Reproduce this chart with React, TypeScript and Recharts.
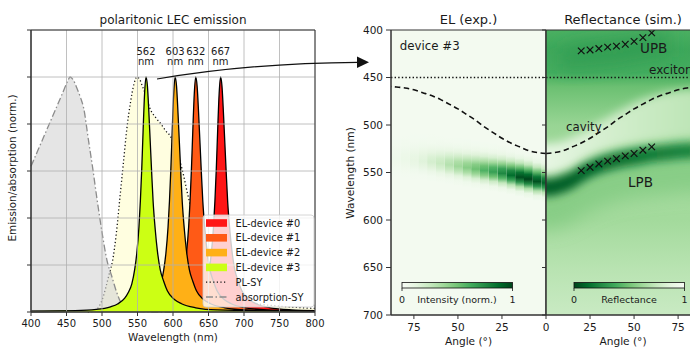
import React from 'react';
import {
  ComposedChart, Area, Line, Scatter, XAxis, YAxis, CartesianGrid,
  ReferenceArea, ReferenceLine,
} from 'recharts';

const FONT = "'DejaVu Sans', Verdana, sans-serif";
const INK = '#1a1a1a';

// ---------------- left panel data ----------------
const wavelengthTicks = [400, 450, 500, 550, 600, 650, 700, 750, 800];
const emissionTicks = [0, 0.2, 0.4, 0.6, 0.8, 1.0, 1.2];
const peakNm = [562, 603, 632, 667];

const absorptionSY = [
  [400, 0.62], [410, 0.69], [420, 0.76], [430, 0.83], [440, 0.9], [447, 0.95], [452, 0.985], [455, 1.0],
  [459, 0.99], [465, 0.95], [470, 0.91], [474, 0.87], [481, 0.73], [487, 0.61], [493, 0.48], [500, 0.34],
  [507, 0.22], [514, 0.15], [520, 0.09], [525, 0.05], [530, 0.025], [535, 0.01], [545, 0.003], [600, 0.0],
];

const plSY = [
  [480, 0.0], [490, 0.005], [495, 0.02], [500, 0.05], [505, 0.1], [510, 0.16], [515, 0.22], [520, 0.33],
  [525, 0.48], [530, 0.63], [535, 0.78], [540, 0.89], [545, 0.97], [549, 1.0], [553, 0.99], [557, 0.96],
  [562, 0.92], [567, 0.87], [575, 0.83], [583, 0.8], [590, 0.77], [596, 0.75], [603, 0.7], [610, 0.64],
  [615, 0.58], [620, 0.51], [630, 0.39], [640, 0.29], [650, 0.21], [660, 0.15], [670, 0.11], [680, 0.08],
  [700, 0.05], [720, 0.035], [750, 0.025], [800, 0.015],
];

const elDevice3 = [
  [400, 0.004], [462, 0.006], [492, 0.011], [512, 0.022], [522, 0.034], [532, 0.059], [537, 0.083],
  [542, 0.12], [546, 0.18], [549, 0.25], [552, 0.36], [554, 0.47], [556, 0.61], [558, 0.78], [560, 0.93],
  [562, 1.0], [564, 0.96], [566, 0.85], [568, 0.72], [570, 0.59], [572, 0.47], [575, 0.35], [578, 0.26],
  [582, 0.18], [587, 0.13], [592, 0.09], [602, 0.053], [612, 0.035], [632, 0.018], [662, 0.009], [800, 0.003],
];
const elDevice2 = [
  [400, 0.003], [503, 0.006], [533, 0.011], [553, 0.022], [563, 0.034], [573, 0.059], [578, 0.083],
  [583, 0.12], [587, 0.18], [590, 0.25], [593, 0.36], [595, 0.47], [597, 0.61], [599, 0.78], [601, 0.93],
  [603, 1.0], [605, 0.96], [607, 0.85], [609, 0.72], [611, 0.59], [613, 0.47], [616, 0.35], [619, 0.26],
  [623, 0.18], [628, 0.13], [633, 0.09], [643, 0.053], [653, 0.035], [673, 0.018], [703, 0.009], [800, 0.004],
];
const elDevice1 = [
  [400, 0.002], [532, 0.006], [562, 0.011], [582, 0.022], [592, 0.034], [602, 0.059], [607, 0.083],
  [612, 0.12], [616, 0.18], [619, 0.25], [622, 0.36], [624, 0.47], [626, 0.61], [628, 0.78], [630, 0.93],
  [632, 1.0], [634, 0.96], [636, 0.85], [638, 0.72], [640, 0.59], [642, 0.47], [645, 0.35], [648, 0.26],
  [652, 0.18], [657, 0.13], [662, 0.09], [672, 0.053], [682, 0.035], [702, 0.018], [732, 0.009], [800, 0.005],
];
const elDevice0 = [
  [400, 0.002], [567, 0.006], [597, 0.011], [617, 0.022], [627, 0.034], [637, 0.059], [642, 0.083],
  [647, 0.12], [651, 0.18], [654, 0.25], [657, 0.36], [659, 0.47], [661, 0.61], [663, 0.78], [665, 0.93],
  [667, 1.0], [669, 0.96], [671, 0.85], [673, 0.72], [675, 0.59], [677, 0.47], [680, 0.35], [683, 0.26],
  [687, 0.18], [692, 0.13], [697, 0.09], [707, 0.053], [717, 0.035], [737, 0.018], [767, 0.009], [800, 0.006],
];

// ---------------- right panel data ----------------
const nmTicks = [400, 450, 500, 550, 600, 650, 700];
const angleTicks = [0, 25, 50, 75];
const excitonNm = 450;

// EL (exp.) columns
const elAngle = [0, 5, 10, 15, 20, 25, 30, 35, 40, 45, 50, 55, 60, 65, 70, 75, 80, 85];
const elPeakNm = [561, 559.5, 557, 555, 553, 551, 549.5, 548, 546.5, 545, 543.5, 542, 540.5, 539, 538, 537, 536, 535.5];
const elIntensity = [0.9, 0.96, 1.0, 0.97, 0.87, 0.76, 0.66, 0.58, 0.5, 0.43, 0.36, 0.29, 0.22, 0.17, 0.12, 0.08, 0.05, 0.03];

// cavity mode
const cavityAngle = [0, 5, 10, 15, 20, 25, 30, 35, 40, 45, 50, 55, 60, 65, 70, 75, 80, 85, 88];
const cavityNm = [530, 529, 527, 523, 519, 514, 508, 502, 495, 489, 483, 478, 473, 469, 466, 463, 461, 460, 459.5];

// Reflectance (sim.) features
const refAngle = [-10, -5, 0, 5, 10, 15, 20, 25, 30, 35, 40, 45, 50, 55, 60, 65, 70, 75, 80, 85, 90, 95];
const lpbTopNm = [553, 556, 557, 556, 553, 549, 543, 538.5, 534.5, 531.5, 529, 527, 525.5, 524, 523, 522, 521, 520, 519.5, 519, 519, 519];
const lpbBottomNm = [571, 574, 575, 574, 571, 567, 561, 555.5, 551.5, 548.5, 546, 544, 542.5, 541, 539, 538, 537, 536, 535.5, 535, 535, 535];
const tailBottomNm = [606, 609, 610, 609, 606, 602, 596, 591, 587, 584, 581, 579, 577, 576, 575, 574, 573, 572, 571, 571, 571, 571];
const lightTopNm = [517, 519, 520, 519, 517, 513, 509, 504, 498, 493, 487, 482, 477, 473, 470, 467, 465, 464, 463, 463, 463, 463];
const lightBottomNm = [548, 551, 552, 551, 548, 544, 538, 533, 529, 526, 523.5, 521.5, 520, 518.5, 517, 516, 515, 514, 513.5, 513, 513, 513];
const upbAngle = [8, 20, 30, 40, 50, 60, 70];
const upbTopNm = [420, 414, 411, 409, 406, 402, 400];
const upbBottomNm = [443, 441, 439, 437, 434, 430, 428];
const refBaseNm = [400, 420, 445, 460, 500, 540, 600, 650, 700];
const refBaseR = [0.4, 0.36, 0.38, 0.48, 0.6, 0.64, 0.63, 0.7, 0.76];

// measured polariton branches
const markAngle = [20, 25, 30, 35, 40, 45, 50, 55, 60];
const upbMarkNm = [422, 421, 419.5, 418, 417, 415, 412, 408, 403];
const lpbMarkNm = [548, 544.5, 541, 538, 535.5, 532.5, 530, 526.5, 523];

// ---------------- helpers ----------------
const fromPairs = (a: number[][]) => a.map(([x, y]) => ({ x, y }));
const zip = (xs: number[], ys: number[]) => xs.map((x, i) => ({ x, y: ys[i] }));
const zipBand = (xs: number[], lo: number[], hi: number[]) => xs.map((x, i) => ({ x, band: [lo[i], hi[i]] }));

const GREENS = [
  [247, 252, 245], [229, 245, 224], [199, 233, 192], [161, 217, 155], [116, 196, 118],
  [65, 171, 93], [35, 139, 69], [0, 109, 44], [0, 68, 27],
];
function greens(v: number): string {
  const c = Math.max(0, Math.min(1, v)) * 8;
  const i = Math.min(7, Math.floor(c));
  const t = c - i;
  const a = GREENS[i], b = GREENS[i + 1];
  const m = (k: number) => Math.round(a[k] + (b[k] - a[k]) * t);
  return `rgb(${m(0)},${m(1)},${m(2)})`;
}
const reflColor = (r: number) => greens(1 - r);
const EL_BG = 0.03;
const EL_PROFILE = [0.004, 0.021, 0.085, 0.25, 0.54, 0.86, 1, 0.74, 0.31, 0.07, 0.009];

const Defs = () => (
  <svg width={0} height={0} style={{ position: 'absolute' }}>
    <defs>
      {elAngle.map((a, i) => (
        <linearGradient key={a} id={`elcol${i}`} x1="0" y1="0" x2="0" y2="1">
          {EL_PROFILE.map((p, k) => (
            <stop key={k} offset={k / 10} stopColor={greens(EL_BG + elIntensity[i] * p * (1 - EL_BG))} />
          ))}
        </linearGradient>
      ))}
      <linearGradient id="refBase" x1="0" y1="0" x2="0" y2="1">
        {refBaseNm.map((nm, i) => (
          <stop key={nm} offset={(nm - 400) / 300} stopColor={reflColor(refBaseR[i])} />
        ))}
      </linearGradient>
      <linearGradient id="lightBand" x1="0" y1="0" x2="1" y2="0">
        <stop offset="0" stopColor={reflColor(0.92)} />
        <stop offset="0.45" stopColor={reflColor(0.8)} />
        <stop offset="1" stopColor={reflColor(0.7)} />
      </linearGradient>
      <linearGradient id="lpbBand" x1="0" y1="0" x2="1" y2="0">
        <stop offset="0" stopColor={reflColor(0.07)} />
        <stop offset="0.2" stopColor={reflColor(0.08)} />
        <stop offset="0.6" stopColor={reflColor(0.17)} />
        <stop offset="1" stopColor={reflColor(0.24)} />
      </linearGradient>
      <linearGradient id="cbEL" x1="0" y1="0" x2="1" y2="0">
        {GREENS.map((_, k) => <stop key={k} offset={k / 8} stopColor={greens(k / 8)} />)}
      </linearGradient>
      <linearGradient id="cbRef" x1="0" y1="0" x2="1" y2="0">
        {GREENS.map((_, k) => <stop key={k} offset={k / 8} stopColor={greens(1 - k / 8)} />)}
      </linearGradient>
      <filter id="blur4" x="-20%" y="-100%" width="140%" height="300%">
        <feGaussianBlur stdDeviation="4" />
      </filter>
      <filter id="blur5" x="-20%" y="-100%" width="140%" height="300%">
        <feGaussianBlur stdDeviation="5" />
      </filter>
      <filter id="blur9" x="-20%" y="-100%" width="140%" height="300%">
        <feGaussianBlur stdDeviation="9" />
      </filter>
    </defs>
  </svg>
);

const tickStyle = { fontSize: 10, fill: INK, fontFamily: FONT };
const tickStyleR = { fontSize: 10.5, fill: INK, fontFamily: FONT };

const peakLabelShape = (p: any) => (
  <g fontFamily={FONT} fontSize={10} fill={INK} textAnchor="middle">
    <text x={p.cx} y={p.cy - 22.5}>{String(p.payload.x)}</text>
    <text x={p.cx} y={p.cy - 12}>nm</text>
  </g>
);

const crossShape = (p: any) => (
  <g stroke="#111" strokeWidth={1.2}>
    <line x1={p.cx - 3.3} y1={p.cy - 3.3} x2={p.cx + 3.3} y2={p.cy + 3.3} />
    <line x1={p.cx - 3.3} y1={p.cy + 3.3} x2={p.cx + 3.3} y2={p.cy - 3.3} />
  </g>
);

const textShape = (txt: string, size: number) => (p: any) => (
  <text x={p.cx} y={p.cy} fontFamily={FONT} fontSize={size} fill={INK}>{txt}</text>
);

const elColors = ['#ff1616', '#ff5a16', '#ffb016', '#ccff14'];

function LeftChart() {
  const els = [elDevice0, elDevice1, elDevice2, elDevice3];
  return (
    <ComposedChart width={330} height={347} margin={{ top: 30, right: 15, bottom: 0, left: 0 }}>
      <XAxis type="number" dataKey="x" domain={[400, 800]} ticks={wavelengthTicks} height={35}
        tickSize={4} tickMargin={4} stroke="#333" tick={tickStyle} interval={0} />
      <YAxis type="number" dataKey="y" domain={[0, 1.2]} ticks={emissionTicks} width={31}
        tickSize={4} stroke="#333" tickFormatter={() => ''} interval={0} />
      <Area data={fromPairs(plSY)} dataKey="y" type="monotone" fill="#fffee0" fillOpacity={1}
        stroke="#111" strokeWidth={1.3} strokeDasharray="1.2 2.4" dot={false} activeDot={false}
        isAnimationActive={false} />
      <Area data={fromPairs(absorptionSY)} dataKey="y" type="monotone" fill="#d3d3d3" fillOpacity={0.6}
        stroke="#8c8c8c" strokeWidth={1.3} strokeDasharray="7 2.5 1.5 2.5" dot={false} activeDot={false}
        isAnimationActive={false} />
      {els.map((d, i) => (
        <Area key={i} data={fromPairs(d)} dataKey="y" type="monotone" fill={elColors[i]} fillOpacity={1}
          stroke="#000" strokeWidth={1.3} dot={false} activeDot={false} isAnimationActive={false} />
      ))}
      <CartesianGrid stroke="#b0b0b0" strokeWidth={0.8} zIndex={150} />
      <Scatter data={peakNm.map((x) => ({ x, y: 1 }))} dataKey="y" shape={peakLabelShape} isAnimationActive={false} />
      <ReferenceArea x1={400} x2={800} y1={0} y2={1.2} fill="none" fillOpacity={0} stroke="#333" strokeWidth={1} zIndex={700} />
    </ComposedChart>
  );
}

function ElChart() {
  return (
    <ComposedChart width={201} height={347} margin={{ top: 30, right: 0, bottom: 0, left: 0 }}>
      <XAxis type="number" dataKey="x" domain={[0, 88]} reversed ticks={[25, 50, 75]} height={32}
        allowDataOverflow tickSize={4} tickMargin={5} stroke="#333" tick={tickStyleR} interval={0} />
      <YAxis type="number" dataKey="y" domain={[400, 700]} reversed ticks={nmTicks} width={46}
        allowDataOverflow tickSize={5} tickMargin={3} stroke="#333" tick={tickStyleR} interval={0} />
      <ReferenceArea x1={0} x2={88} y1={400} y2={700} fill={greens(EL_BG)} fillOpacity={1} stroke="none" zIndex={10} />
      {elAngle.map((a, i) => (
        <ReferenceArea key={a} x1={Math.max(0, a - 2.5)} x2={Math.min(88, a + 2.5)}
          y1={elPeakNm[i] - 30} y2={elPeakNm[i] + 20} fill={`url(#elcol${i})`} fillOpacity={1}
          stroke="none" zIndex={20} />
      ))}
      <ReferenceLine y={excitonNm} stroke="#111" strokeWidth={1.4} strokeDasharray="1.4 2.2" zIndex={400} />
      <Line data={zip(cavityAngle, cavityNm)} dataKey="y" type="monotone" stroke="#111" strokeWidth={1.6}
        strokeDasharray="5.5 3.5" dot={false} activeDot={false} isAnimationActive={false} />
      <Scatter data={[{ x: 83, y: 421 }]} dataKey="y" shape={textShape('device #3', 11.8)} isAnimationActive={false} />
      <ReferenceArea x1={0} x2={88} y1={400} y2={700} fill="none" fillOpacity={0} stroke="#333" strokeWidth={1} zIndex={700} />
    </ComposedChart>
  );
}

function RefChart() {
  return (
    <ComposedChart width={161} height={347} margin={{ top: 30, right: 0, bottom: 0, left: 0 }}>
      <XAxis type="number" dataKey="x" domain={[0, 88]} ticks={angleTicks} height={32}
        allowDataOverflow tickSize={4} tickMargin={5} stroke="#333" tick={tickStyleR} interval={0} />
      <YAxis type="number" dataKey="y" domain={[400, 700]} reversed ticks={nmTicks} width={6}
        allowDataOverflow tickSize={4} stroke="#333" tickFormatter={() => ''} interval={0} />
      <ReferenceArea x1={0} x2={88} y1={400} y2={700} fill="url(#refBase)" fillOpacity={1} stroke="none" zIndex={10} />
      <Area data={zipBand(refAngle, lpbTopNm, tailBottomNm)} dataKey="band" type="monotone"
        fill={reflColor(0.5)} fillOpacity={0.6} stroke="none" filter="url(#blur9)"
        dot={false} activeDot={false} isAnimationActive={false} />
      <Area data={zipBand(refAngle, lightTopNm, lightBottomNm)} dataKey="band" type="monotone"
        fill="url(#lightBand)" fillOpacity={1} stroke="none" filter="url(#blur5)"
        dot={false} activeDot={false} isAnimationActive={false} />
      <Area data={zipBand(upbAngle, upbTopNm, upbBottomNm)} dataKey="band" type="monotone"
        fill={reflColor(0.3)} fillOpacity={0.6} stroke="none" filter="url(#blur9)"
        dot={false} activeDot={false} isAnimationActive={false} />
      <Area data={zipBand(refAngle, lpbTopNm, lpbBottomNm)} dataKey="band" type="monotone"
        fill="url(#lpbBand)" fillOpacity={1} stroke="none" filter="url(#blur4)"
        dot={false} activeDot={false} isAnimationActive={false} />
      <ReferenceLine y={excitonNm} stroke="#111" strokeWidth={1.4} strokeDasharray="1.4 2.2" zIndex={400} />
      <Line data={zip(cavityAngle, cavityNm)} dataKey="y" type="monotone" stroke="#111" strokeWidth={1.6}
        strokeDasharray="5.5 3.5" dot={false} activeDot={false} isAnimationActive={false} />
      <Scatter data={zip(markAngle, upbMarkNm)} dataKey="y" shape={crossShape} isAnimationActive={false} />
      <Scatter data={zip(markAngle, lpbMarkNm)} dataKey="y" shape={crossShape} isAnimationActive={false} />
      <Scatter data={[{ x: 53.4, y: 424.5 }]} dataKey="y" shape={textShape('UPB', 13.5)} isAnimationActive={false} />
      <Scatter data={[{ x: 58.5, y: 446 }]} dataKey="y" shape={textShape('exciton', 12)} isAnimationActive={false} />
      <Scatter data={[{ x: 11.4, y: 506.5 }]} dataKey="y" shape={textShape('cavity', 11.8)} isAnimationActive={false} />
      <Scatter data={[{ x: 46.6, y: 565 }]} dataKey="y" shape={textShape('LPB', 13.5)} isAnimationActive={false} />
      <ReferenceArea x1={0} x2={88} y1={400} y2={700} fill="none" fillOpacity={0} stroke="#333" strokeWidth={1} zIndex={700} />
    </ComposedChart>
  );
}

const legendRows = [
  { label: 'EL-device #0', kind: 'patch', color: elColors[0] },
  { label: 'EL-device #1', kind: 'patch', color: elColors[1] },
  { label: 'EL-device #2', kind: 'patch', color: elColors[2] },
  { label: 'EL-device #3', kind: 'patch', color: elColors[3] },
  { label: 'PL-SY', kind: 'dot', color: '#111' },
  { label: 'absorption-SY', kind: 'dashdot', color: '#8c8c8c' },
];

function Overlay() {
  return (
    <svg width={690} height={347} style={{ position: 'absolute', left: 0, top: 0, pointerEvents: 'none' }}
      fontFamily={FONT} fill={INK}>
      <text x={173} y={23.5} fontSize={12} textAnchor="middle">polaritonic LEC emission</text>
      <text x={173} y={341} fontSize={10.4} textAnchor="middle">Wavelength (nm)</text>
      <text transform="translate(16,168) rotate(-90)" fontSize={10.4} textAnchor="middle">Emission/absorption (norm.)</text>
      <text x={468.5} y={23.5} fontSize={13} textAnchor="middle">EL (exp.)</text>
      <text x={623} y={23.5} fontSize={13} textAnchor="middle">Reflectance (sim.)</text>
      <text transform="translate(354,173) rotate(-90)" fontSize={10.6} textAnchor="middle">Wavelength (nm)</text>
      <text x={468.5} y={344.5} fontSize={10.6} textAnchor="middle">Angle (°)</text>
      <text x={623} y={344.5} fontSize={10.6} textAnchor="middle">Angle (°)</text>

      {/* legend */}
      <rect x={203} y={215} width={111} height={92} rx={3} fill="#fff" fillOpacity={0.8} stroke="#cccccc" strokeWidth={0.8} />
      {legendRows.map((r, i) => {
        const cy = 223 + i * 14.8;
        return (
          <g key={r.label}>
            {r.kind === 'patch' && <rect x={206} y={cy - 3.8} width={21} height={7.6} fill={r.color} />}
            {r.kind === 'dot' && <line x1={206} y1={cy} x2={227} y2={cy} stroke={r.color} strokeWidth={1.3} strokeDasharray="1.2 2.4" />}
            {r.kind === 'dashdot' && <line x1={206} y1={cy} x2={227} y2={cy} stroke={r.color} strokeWidth={1.3} strokeDasharray="7 2.5 1.5 2.5" />}
            <text x={235.5} y={cy + 3.5} fontSize={9.8}>{r.label}</text>
          </g>
        );
      })}

      {/* arrow */}
      <path d="M157,79 Q250,63 358,62.3" fill="none" stroke="#111" strokeWidth={1.2} />
      <polygon points="369,62.3 357,56.6 357,68" fill="#111" />

      {/* colorbars */}
      <rect x={402} y={282.5} width={110.5} height={5.5} fill="url(#cbEL)" stroke="#111" strokeWidth={0.8} />
      <line x1={402} y1={288} x2={402} y2={291} stroke="#111" strokeWidth={0.8} />
      <line x1={512.5} y1={288} x2={512.5} y2={291} stroke="#111" strokeWidth={0.8} />
      <text x={402} y={302.5} fontSize={9.5} textAnchor="middle">0</text>
      <text x={512.5} y={302.5} fontSize={9.5} textAnchor="middle">1</text>
      <text x={457} y={302.5} fontSize={9.5} textAnchor="middle">Intensity (norm.)</text>

      <rect x={574} y={282.5} width={110.5} height={5.5} fill="url(#cbRef)" stroke="#111" strokeWidth={0.8} />
      <line x1={574} y1={288} x2={574} y2={291} stroke="#111" strokeWidth={0.8} />
      <line x1={684.5} y1={288} x2={684.5} y2={291} stroke="#111" strokeWidth={0.8} />
      <text x={574} y={302.5} fontSize={9.5} textAnchor="middle">0</text>
      <text x={684.5} y={302.5} fontSize={9.5} textAnchor="middle">1</text>
      <text x={629} y={302.5} fontSize={9.5} textAnchor="middle">Reflectance</text>
    </svg>
  );
}

export default function App() {
  return (
    <div style={{ position: 'absolute', left: 0, top: 0, width: 690, height: 347, overflow: 'hidden', background: '#fff', fontFamily: FONT }}>
      <Defs />
      <div style={{ position: 'absolute', left: 0, top: 0 }}><LeftChart /></div>
      <div style={{ position: 'absolute', left: 345, top: 0 }}><ElChart /></div>
      <div style={{ position: 'absolute', left: 540, top: 0 }}><RefChart /></div>
      <Overlay />
    </div>
  );
}
